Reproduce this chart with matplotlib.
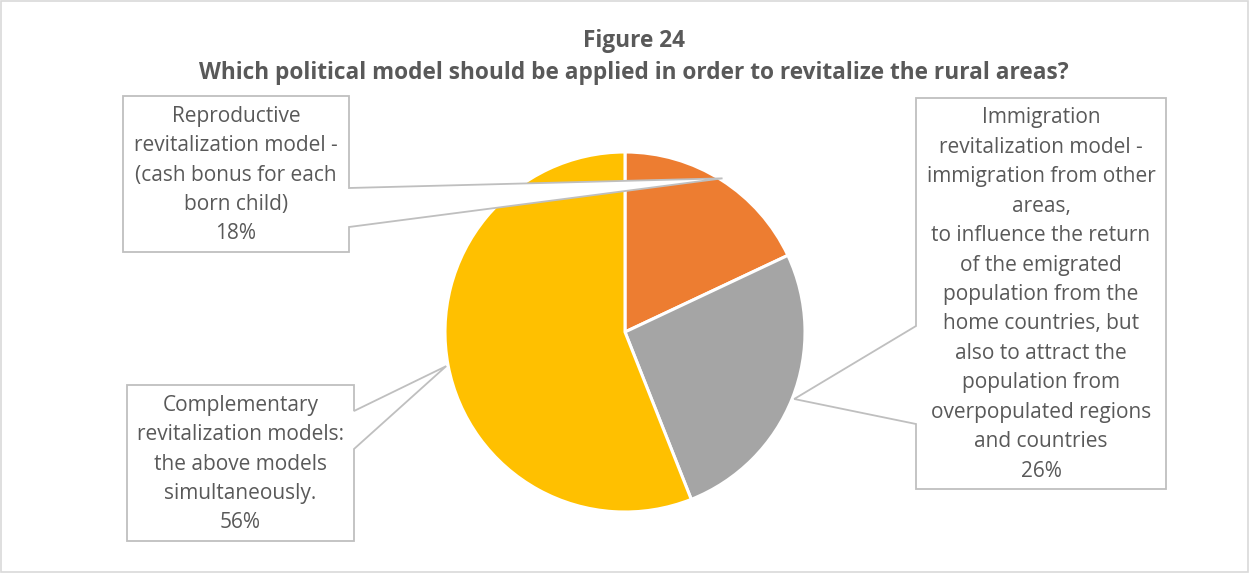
import numpy as np
import matplotlib
matplotlib.use("Agg")
import matplotlib.pyplot as plt
from matplotlib.patches import Polygon, Rectangle

# data
labels = [
    "Reproductive\nrevitalization model -\n(cash bonus for each\nborn child)",
    "Immigration\nrevitalization model -\nimmigration from other\nareas,\nto influence the return\nof the emigrated\npopulation from the\nhome countries, but\nalso to attract the\npopulation from\noverpopulated regions\nand countries",
    "Complementary\nrevitalization models:\nthe above models\nsimultaneously.",
]
values = [18, 26, 56]
colors = ["#ED7D31", "#A5A5A5", "#FFC000"]

title = "Figure 24\nWhich political model should be applied in order to revitalize the rural areas?"

W, H = 1249, 573
cx, cy, R = 625, 332, 180

# callout boxes (x0, y0, x1, y1), side the pointer leaves from, pointer base y's
boxes = [
    ((123, 96, 349, 252), "right", (188, 227)),
    ((916, 98, 1166, 489), "left", (326, 424)),
    ((127, 385, 354, 541), "right", (411, 449)),
]

text_col = "#595959"
plt.rcParams["font.family"] = ["Open Sans", "DejaVu Sans"]

fig = plt.figure(figsize=(W / 100, H / 100), dpi=100)
ax = fig.add_axes([0, 0, 1, 1])

# y axis is flipped below, so counterclock in data = clockwise on screen
ax.pie(values, colors=colors, startangle=270, counterclock=True,
       center=(cx, cy), radius=R,
       wedgeprops=dict(edgecolor="white", linewidth=2.2))

ax.set_xlim(0, W)
ax.set_ylim(H, 0)
ax.set_aspect("auto")
ax.axis("off")

# outer chart border
ax.add_patch(Rectangle((1, 1), W - 2, H - 2, fill=False, edgecolor="#D9D9D9",
                       linewidth=1.2, zorder=1))

fracs = np.array(values) / sum(values)
cum = np.concatenate([[0], np.cumsum(fracs)[:-1]])
mids = np.deg2rad((cum + fracs / 2) * 360)

for i, (lab, v) in enumerate(zip(labels, values)):
    (x0, y0, x1, y1), side, (ya, yb) = boxes[i]
    tx = cx + (R + 2) * np.sin(mids[i])
    ty = cy - (R + 2) * np.cos(mids[i])
    if side == "right":
        pts = [(x0, y0), (x1, y0), (x1, ya), (tx, ty), (x1, yb), (x1, y1), (x0, y1)]
    else:
        pts = [(x0, y0), (x1, y0), (x1, y1), (x0, y1), (x0, yb), (tx, ty), (x0, ya)]
    ax.add_patch(Polygon(pts, closed=True, facecolor="white", edgecolor="#BFBFBF",
                         linewidth=1.3, zorder=5))
    ax.text((x0 + x1) / 2, (y0 + y1) / 2 + 1, f"{lab}\n{v}%", ha="center", va="center",
            multialignment="center", fontsize=15, color=text_col,
            linespacing=1.53, zorder=6)

ax.text(634, 57, title, ha="center", va="center", fontsize=16.3, fontweight="bold",
        color=text_col, linespacing=1.42)

fig.savefig("out.png", dpi=100)
